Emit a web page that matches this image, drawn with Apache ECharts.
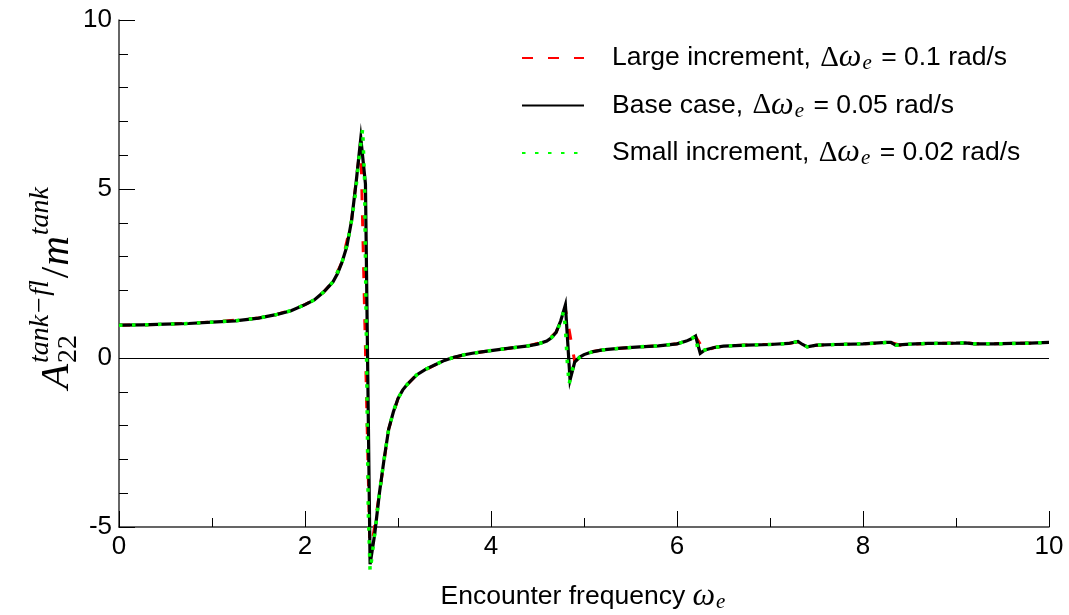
<!DOCTYPE html>
<html>
<head>
<meta charset="utf-8">
<script src="https://cdn.jsdelivr.net/npm/echarts@6/dist/echarts.min.js"></script>
<style>
  html, body { margin: 0; padding: 0; background: #fff; }
  #chart { width: 1069px; height: 615px; }
</style>
</head>
<body>
<div id="chart"></div>
<script>
// Added-mass coefficient of the tank fluid vs. encounter frequency,
// computed with three frequency increments.

// Base case, step 0.05 rad/s
const baseX = [0,0.25,0.5,0.75,1.0,1.25,1.5,1.7,1.85,2.0,2.1,2.2,2.3,2.35,2.4,2.45,2.5,2.55,2.6,2.65,2.7,2.75,2.8,2.85,2.9,2.95,3.0,3.05,3.1,3.2,3.3,3.4,3.5,3.6,3.7,3.8,3.9,4.0,4.2,4.4,4.5,4.6,4.65,4.7,4.75,4.8,4.85,4.9,4.95,5.0,5.05,5.1,5.2,5.4,5.6,5.8,6.0,6.1,6.15,6.2,6.25,6.3,6.4,6.5,6.75,7.0,7.2,7.3,7.35,7.4,7.5,7.7,8.0,8.25,8.3,8.35,8.5,8.7,9.0,9.1,9.2,9.4,9.6,9.8,10.0];
const baseY = [0.97,0.98,1.0,1.02,1.06,1.1,1.18,1.29,1.40,1.58,1.72,1.95,2.25,2.5,2.85,3.3,4.05,5.2,6.5,5.15,-6.1,-5.2,-4.0,-3.0,-2.1,-1.6,-1.2,-0.95,-0.78,-0.5,-0.33,-0.2,-0.07,0.02,0.09,0.14,0.18,0.22,0.29,0.36,0.41,0.5,0.6,0.76,1.1,1.57,-0.65,-0.12,0.02,0.1,0.15,0.19,0.24,0.29,0.33,0.36,0.42,0.5,0.56,0.65,0.14,0.24,0.31,0.35,0.38,0.40,0.43,0.49,0.40,0.33,0.38,0.40,0.42,0.46,0.46,0.38,0.41,0.43,0.44,0.45,0.42,0.42,0.43,0.44,0.46];

// Large increment, step 0.1 rad/s
const largeX = [0,0.5,1.0,1.5,1.7,1.9,2.0,2.1,2.2,2.3,2.4,2.5,2.6,2.7,2.8,2.9,3.0,3.1,3.2,3.4,3.6,3.8,4.0,4.2,4.4,4.6,4.7,4.8,4.9,5.0,5.1,5.2,5.4,5.6,5.8,6.0,6.1,6.2,6.3,6.4,6.5,6.8,7.0,7.2,7.3,7.4,7.5,7.7,8.0,8.3,8.4,8.5,8.7,9.0,9.1,9.2,9.4,9.6,9.8,10.0];
const largeY = [0.97,1.0,1.06,1.18,1.29,1.47,1.58,1.72,1.95,2.25,2.85,4.05,6.4,-5.9,-4.0,-2.1,-1.2,-0.78,-0.5,-0.2,0.02,0.14,0.22,0.29,0.36,0.5,0.76,1.45,-0.1,0.1,0.19,0.24,0.29,0.33,0.36,0.42,0.5,0.63,0.2,0.31,0.35,0.39,0.40,0.43,0.48,0.33,0.38,0.40,0.42,0.46,0.38,0.41,0.43,0.44,0.45,0.42,0.42,0.43,0.44,0.46];

// Small increment, step 0.02 rad/s
const smallX = [0,0.25,0.5,0.75,1.0,1.25,1.5,1.7,1.86,2.0,2.1,2.2,2.3,2.36,2.4,2.46,2.5,2.54,2.58,2.6,2.62,2.64,2.66,2.68,2.7,2.72,2.74,2.76,2.8,2.84,2.9,2.96,3.0,3.06,3.1,3.2,3.3,3.4,3.5,3.6,3.7,3.8,3.9,4.0,4.2,4.4,4.5,4.6,4.66,4.7,4.74,4.78,4.8,4.82,4.84,4.86,4.88,4.9,4.92,4.96,5.0,5.06,5.1,5.2,5.4,5.6,5.8,6.0,6.1,6.16,6.2,6.22,6.24,6.26,6.3,6.4,6.5,6.76,7.0,7.2,7.3,7.34,7.4,7.5,7.7,8.0,8.26,8.3,8.36,8.5,8.7,9.0,9.1,9.2,9.4,9.6,9.8,10.0];
const smallY = [0.97,0.98,1.0,1.02,1.06,1.1,1.18,1.29,1.41,1.58,1.72,1.95,2.25,2.6,2.85,3.45,4.05,4.8,5.9,6.35,6.78,5.3,0.5,-4.5,-6.3,-5.9,-5.4,-5.0,-4.0,-3.2,-2.1,-1.5,-1.2,-0.9,-0.78,-0.5,-0.33,-0.2,-0.07,0.02,0.09,0.14,0.18,0.22,0.29,0.36,0.41,0.5,0.63,0.74,1.0,1.37,0.9,-0.1,-0.78,-0.5,-0.3,-0.17,-0.08,0.04,0.1,0.16,0.19,0.24,0.29,0.33,0.36,0.42,0.5,0.58,0.66,0.32,0.18,0.2,0.24,0.31,0.35,0.38,0.40,0.43,0.49,0.42,0.33,0.38,0.40,0.42,0.46,0.46,0.38,0.41,0.43,0.44,0.45,0.42,0.42,0.43,0.44,0.46];

const seriesNames = ['Large increment', 'Base case', 'Small increment'];
const seriesSteps = ['0.1', '0.05', '0.02'];

const SANS = '"Liberation Sans", Arial, sans-serif';
const SERIF = '"Liberation Serif", "Times New Roman", serif';
const FS = 26.5;

const zip = (xs, ys) => xs.map((x, i) => [x, ys[i]]);

const mathRich = {
  g: { fontFamily: SERIF, fontSize: 29, lineHeight: 30, color: '#000', padding: [0, 0, 0, 2] },
  w: { fontFamily: SERIF, fontStyle: 'italic', fontSize: 32, lineHeight: 30, color: '#000', padding: [0, 1, 0, 0] },
  s: { fontFamily: SERIF, fontStyle: 'italic', fontSize: 21, lineHeight: 21, color: '#000', padding: [11, 2, 0, 0] }
};

// Y-axis title A_22^{tank-fl} / m^{tank}, laid out piece by piece and rotated
const measureCtx = document.createElement('canvas').getContext('2d');
function textWidth(txt, font) { measureCtx.font = font; return measureCtx.measureText(txt).width; }
function yTitle() {
  const big = 41, small = 28;
  const fBigI = 'italic ' + big + 'px ' + SERIF;
  const fSmallI = 'italic ' + small + 'px ' + SERIF;
  const fSmall = small + 'px ' + SERIF;
  const fBig = big + 'px ' + SERIF;
  const parts = [];
  let x = 0;
  const put = (text, font, dy) => {
    parts.push({ type: 'text', x: x, y: dy, style: { text, font, fill: '#000', textAlign: 'left', align: 'left', textVerticalAlign: 'middle', verticalAlign: 'middle' } });
    return textWidth(text, font);
  };
  x += put('A', fBigI, 0) + 1;
  const subW = put('22', fSmall, 12);
  const supW = put('tank\u2212fl', fSmallI, -16);
  x += Math.max(subW, supW) + 2;
  x += put('/', fBig, 0) + 1;
  x += put('m', fBigI, 0) + 1;
  x += put('tank', fSmallI, -16);
  parts.forEach(p => { p.x -= x / 2; });
  return { type: 'group', x: 57, y: 288, rotation: Math.PI / 2, children: parts, silent: true };
}

const chart = echarts.init(document.getElementById('chart'), null, { renderer: 'canvas' });

const lineStyles = [
  { color: '#ff0000', width: 3, type: [11, 15] },
  { color: '#000000', width: 3.2, type: 'solid' },
  { color: '#00ff00', width: 3.5, type: [3.5, 9.5] }
];
const dataSets = [zip(largeX, largeY), zip(baseX, baseY), zip(smallX, smallY)];

const series = seriesNames.map((name, i) => {
  const s = {
    name, type: 'line', data: dataSets[i], symbol: 'none', showSymbol: false,
    clip: false, smooth: false, z: 3 + i,
    lineStyle: Object.assign({ cap: 'butt', join: 'miter' }, lineStyles[i]),
    itemStyle: { color: lineStyles[i].color },
    emphasis: { disabled: true }
  };
  if (i === 0) {
    s.markLine = {
      silent: true, symbol: 'none', label: { show: false },
      lineStyle: { color: '#000', width: 1, type: 'solid' },
      data: [{ yAxis: 0 }],
      z: 1
    };
  }
  return s;
});

chart.setOption({
  animation: false,
  backgroundColor: '#fff',
  grid: { left: 119, right: 20, top: 20, bottom: 88, containLabel: false, outerBoundsMode: 'none' },
  legend: {
    orient: 'vertical', left: 516, top: 37,
    itemWidth: 62, itemHeight: 24, itemGap: 15.5,
    selectedMode: false,
    data: seriesNames,
    itemStyle: { opacity: 0 },
    formatter: name => {
      const i = seriesNames.indexOf(name);
      return name + ', {g|\u0394}{w|\u03C9}{s|e} = ' + seriesSteps[i] + ' rad/s';
    },
    textStyle: { fontFamily: SANS, fontSize: FS, lineHeight: 30, color: '#000', padding: [0, 0, 0, 23], rich: mathRich }
  },
  xAxis: {
    type: 'value', min: 0, max: 10, interval: 2,
    name: 'Encounter frequency {w|\u03C9}{s|e}',
    nameLocation: 'middle', nameGap: 55,
    nameTextStyle: { fontFamily: SANS, fontSize: FS, lineHeight: 30, color: '#000', rich: mathRich },
    axisLine: { onZero: false, lineStyle: { color: '#333', width: 1.5 } },
    axisTick: { inside: true, length: 16, lineStyle: { color: '#000', width: 1 } },
    minorTick: { show: true, splitNumber: 2, length: 9, lineStyle: { color: '#000', width: 1 } },
    splitLine: { show: false },
    axisLabel: { fontFamily: SANS, fontSize: 26, color: '#000', margin: 7 }
  },
  yAxis: {
    type: 'value', min: -5, max: 10, interval: 5,
    axisLine: { onZero: false, lineStyle: { color: '#333', width: 1.5 } },
    axisTick: { inside: true, length: 16, lineStyle: { color: '#000', width: 1 } },
    minorTick: { show: true, splitNumber: 5, length: 9, lineStyle: { color: '#000', width: 1 } },
    splitLine: { show: false },
    axisLabel: { fontFamily: SANS, fontSize: 26, color: '#000', margin: 7 }
  },
  graphic: [yTitle()],
  series
});
</script>
</body>
</html>
